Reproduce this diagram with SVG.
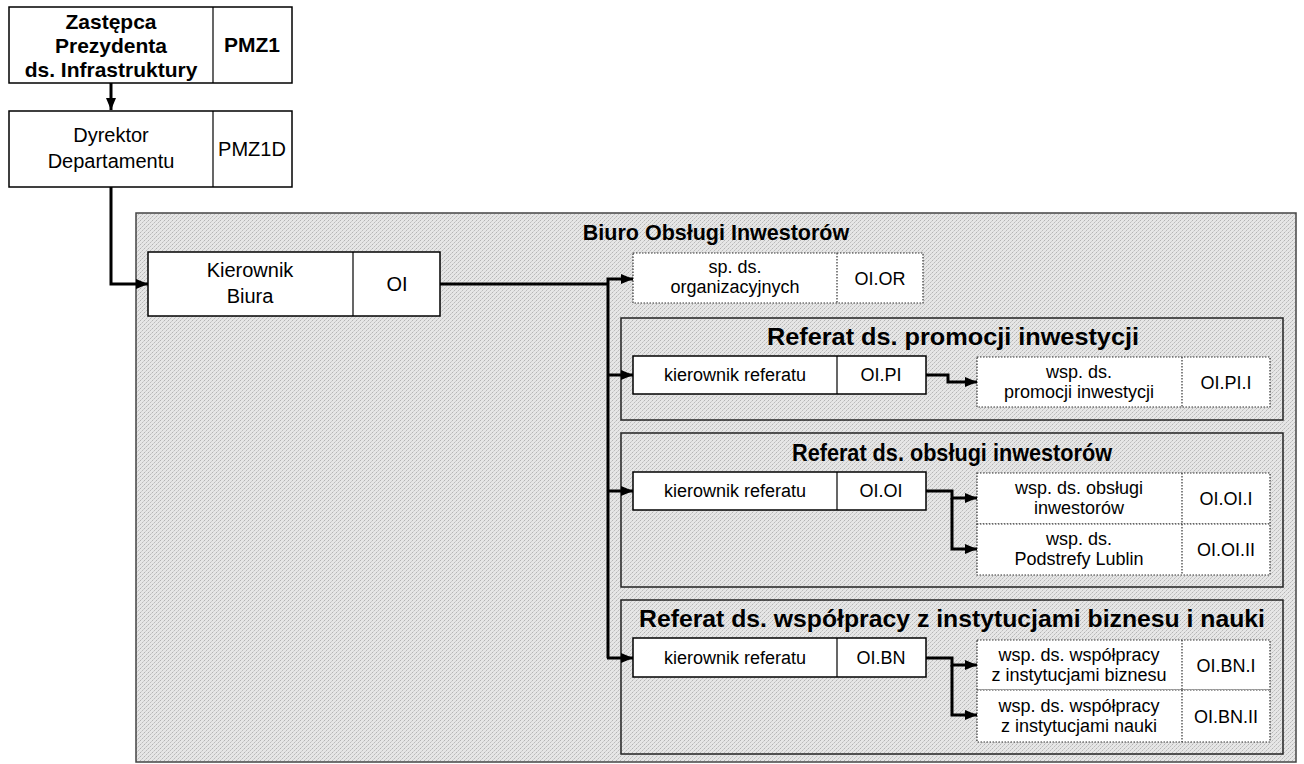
<svg xmlns="http://www.w3.org/2000/svg" width="1304" height="764" viewBox="0 0 1304 764">
  <defs>
    <marker id="arrow" viewBox="0 0 12 10" refX="12" refY="5" markerWidth="12" markerHeight="10" markerUnits="userSpaceOnUse" orient="auto">
      <path d="M0,0 L12,5 L0,10 Z" fill="#000"/>
    </marker>
    <pattern id="dither" width="4" height="4" patternUnits="userSpaceOnUse">
      <rect width="4" height="4" fill="#e6e6e6"/>
      <rect x="0" y="0" width="1" height="1" fill="#b4b4b4"/>
      <rect x="2" y="2" width="1" height="1" fill="#bcbcbc"/>
      <rect x="3" y="1" width="1" height="1" fill="#cccccc"/>
      <rect x="1" y="3" width="1" height="1" fill="#d0d0d0"/>
    </pattern>
  </defs>
  <style>
    text { font-family: "Liberation Sans", Arial, sans-serif; fill: #000; text-anchor: middle; }
    .bold { font-weight: bold; }
    .box { fill: #fff; stroke: #000; stroke-width: 1.5; }
    .dot { fill: #fff; stroke: #333; stroke-width: 1.2; stroke-dasharray: 1.5 1.5; }
    .div { stroke: #000; stroke-width: 1.2; }
    .divdot { stroke: #333; stroke-width: 1.2; stroke-dasharray: 1.5 1.5; }
    .area { fill: url(#dither); stroke: #444; stroke-width: 1.5; }
    .sub { fill: url(#dither); stroke: #222; stroke-width: 1.5; }
    .link { fill: none; stroke: #000; stroke-width: 3; }
    .t21 { font-size: 21px; }
    .t20 { font-size: 20px; }
    .t18 { font-size: 18px; }
    .h { font-size: 21.5px; font-weight: bold; }
    .hs { font-size: 24px; font-weight: bold; }
  </style>

  <!-- background -->
  <rect width="1304" height="764" fill="#fff"/>

  <!-- office area -->
  <g id="biuro">
    <rect class="area" x="136" y="213" width="1160" height="549"/>
    <text class="h" x="716" y="240">Biuro Obsługi Inwestorów</text>
  </g>

  <!-- sections -->
  <g id="ref-pi">
    <rect class="sub" x="621" y="318" width="662" height="102"/>
    <text class="hs" x="953" y="345" textLength="372" lengthAdjust="spacingAndGlyphs">Referat ds. promocji inwestycji</text>
  </g>
  <g id="ref-oi">
    <rect class="sub" x="621" y="433" width="662" height="154"/>
    <text class="hs" x="952" y="461" textLength="320" lengthAdjust="spacingAndGlyphs">Referat ds. obsługi inwestorów</text>
  </g>
  <g id="ref-bn">
    <rect class="sub" x="621" y="600" width="662" height="154"/>
    <text class="hs" x="952" y="627" textLength="626" lengthAdjust="spacingAndGlyphs">Referat ds. współpracy z instytucjami biznesu i nauki</text>
  </g>

  <!-- top management -->
  <g id="pmz1">
    <rect class="box" x="9" y="7" width="283" height="76"/>
    <line class="div" x1="213" y1="7" x2="213" y2="83"/>
    <text class="t21 bold" x="111" y="29">Zastępca</text>
    <text class="t21 bold" x="111" y="53">Prezydenta</text>
    <text class="t21 bold" x="111" y="77">ds. Infrastruktury</text>
    <text class="t21 bold" x="252" y="52">PMZ1</text>
  </g>
  <g id="pmz1d">
    <rect class="box" x="9" y="111" width="283" height="76"/>
    <line class="div" x1="213" y1="111" x2="213" y2="187"/>
    <text class="t20" x="111" y="142">Dyrektor</text>
    <text class="t20" x="111" y="168">Departamentu</text>
    <text class="t20" x="252" y="156">PMZ1D</text>
  </g>
  <g id="oi">
    <rect class="box" x="148" y="252" width="292" height="64"/>
    <line class="div" x1="353" y1="252" x2="353" y2="316"/>
    <text class="t20" x="250" y="277">Kierownik</text>
    <text class="t20" x="250" y="303">Biura</text>
    <text class="t20" x="397" y="291">OI</text>
  </g>
  <g id="oi-or">
    <rect class="dot" x="633" y="253" width="290" height="50"/>
    <line class="divdot" x1="837" y1="253" x2="837" y2="303"/>
    <text class="t18" x="735" y="273">sp. ds.</text>
    <text class="t18" x="735" y="293">organizacyjnych</text>
    <text class="t18" x="880" y="285">OI.OR</text>
  </g>

  <!-- section heads -->
  <g id="oi-pi">
    <rect class="box" x="633" y="356" width="293" height="38"/>
    <line class="div" x1="837" y1="356" x2="837" y2="394"/>
    <text class="t18" x="735" y="381">kierownik referatu</text>
    <text class="t18" x="881" y="381">OI.PI</text>
  </g>
  <g id="oi-oi">
    <rect class="box" x="633" y="472" width="293" height="38"/>
    <line class="div" x1="837" y1="472" x2="837" y2="510"/>
    <text class="t18" x="735" y="497">kierownik referatu</text>
    <text class="t18" x="881" y="497">OI.OI</text>
  </g>
  <g id="oi-bn">
    <rect class="box" x="633" y="638" width="293" height="39"/>
    <line class="div" x1="837" y1="638" x2="837" y2="677"/>
    <text class="t18" x="735" y="664">kierownik referatu</text>
    <text class="t18" x="881" y="664">OI.BN</text>
  </g>

  <!-- staff -->
  <g id="oi-pi-i">
    <rect class="dot" x="977" y="357" width="293" height="50"/>
    <line class="divdot" x1="1182" y1="357" x2="1182" y2="407"/>
    <text class="t18" x="1079" y="378">wsp. ds.</text>
    <text class="t18" x="1079" y="398">promocji inwestycji</text>
    <text class="t18" x="1226" y="389">OI.PI.I</text>
  </g>
  <g id="oi-oi-i">
    <rect class="dot" x="977" y="473" width="293" height="51"/>
    <line class="divdot" x1="1182" y1="473" x2="1182" y2="524"/>
    <text class="t18" x="1079" y="494">wsp. ds. obsługi</text>
    <text class="t18" x="1079" y="514">inwestorów</text>
    <text class="t18" x="1226" y="505">OI.OI.I</text>
  </g>
  <g id="oi-oi-ii">
    <rect class="dot" x="977" y="524" width="293" height="51"/>
    <line class="divdot" x1="1182" y1="524" x2="1182" y2="575"/>
    <text class="t18" x="1079" y="545">wsp. ds.</text>
    <text class="t18" x="1079" y="565">Podstrefy Lublin</text>
    <text class="t18" x="1226" y="556">OI.OI.II</text>
  </g>
  <g id="oi-bn-i">
    <rect class="dot" x="977" y="640" width="293" height="50"/>
    <line class="divdot" x1="1182" y1="640" x2="1182" y2="690"/>
    <text class="t18" x="1079" y="661">wsp. ds. współpracy</text>
    <text class="t18" x="1079" y="681">z instytucjami biznesu</text>
    <text class="t18" x="1226" y="672">OI.BN.I</text>
  </g>
  <g id="oi-bn-ii">
    <rect class="dot" x="977" y="690" width="293" height="52"/>
    <line class="divdot" x1="1182" y1="690" x2="1182" y2="742"/>
    <text class="t18" x="1079" y="712">wsp. ds. współpracy</text>
    <text class="t18" x="1079" y="732">z instytucjami nauki</text>
    <text class="t18" x="1226" y="723">OI.BN.II</text>
  </g>

  <!-- connectors -->
  <g id="connectors">
    <path class="link" d="M111,83 V110" marker-end="url(#arrow)"/>
    <path class="link" d="M111,187 V284 H148" marker-end="url(#arrow)"/>
    <path class="link" d="M440,284 H608"/>
    <path class="link" d="M608,658 V279 H633" marker-end="url(#arrow)"/>
    <path class="link" d="M607,375 H633" marker-end="url(#arrow)"/>
    <path class="link" d="M607,491 H633" marker-end="url(#arrow)"/>
    <path class="link" d="M607,658 H633" marker-end="url(#arrow)"/>
    <path class="link" d="M926,375 H948 V382 H977" marker-end="url(#arrow)"/>
    <path class="link" d="M926,491 H952 V498 H977" marker-end="url(#arrow)"/>
    <path class="link" d="M952,498 V549 H977" marker-end="url(#arrow)"/>
    <path class="link" d="M926,658 H952 V665 H977" marker-end="url(#arrow)"/>
    <path class="link" d="M952,665 V715 H977" marker-end="url(#arrow)"/>
  </g>
</svg>
